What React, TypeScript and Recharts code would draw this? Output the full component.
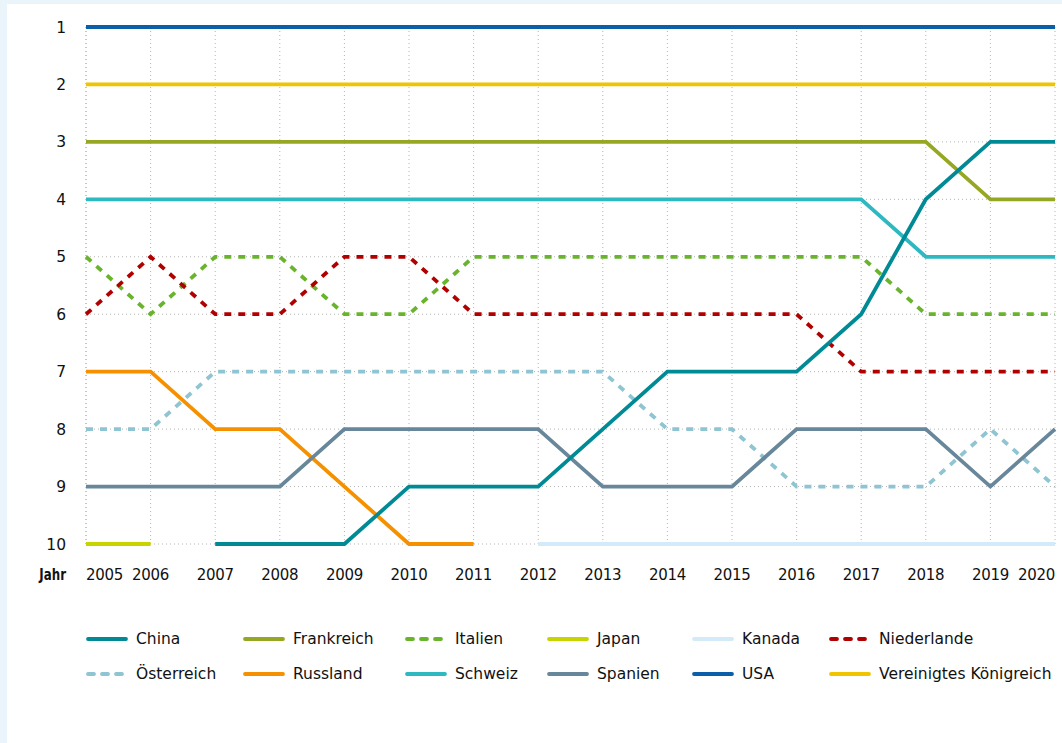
import React from 'react';
import { LineChart, Line, XAxis, YAxis, CartesianGrid } from 'recharts';

const years = [2005, 2006, 2007, 2008, 2009, 2010, 2011, 2012, 2013, 2014, 2015, 2016, 2017, 2018, 2019, 2020];
const rankTicks = [1, 2, 3, 4, 5, 6, 7, 8, 9, 10];

type R = number | null;
const usa: R[] = [1, 1, 1, 1, 1, 1, 1, 1, 1, 1, 1, 1, 1, 1, 1, 1];
const vereinigtesKoenigreich: R[] = [2, 2, 2, 2, 2, 2, 2, 2, 2, 2, 2, 2, 2, 2, 2, 2];
const frankreich: R[] = [3, 3, 3, 3, 3, 3, 3, 3, 3, 3, 3, 3, 3, 3, 4, 4];
const schweiz: R[] = [4, 4, 4, 4, 4, 4, 4, 4, 4, 4, 4, 4, 4, 5, 5, 5];
const china: R[] = [null, null, 10, 10, 10, 9, 9, 9, 8, 7, 7, 7, 6, 4, 3, 3];
const italien: R[] = [5, 6, 5, 5, 6, 6, 5, 5, 5, 5, 5, 5, 5, 6, 6, 6];
const niederlande: R[] = [6, 5, 6, 6, 5, 5, 6, 6, 6, 6, 6, 6, 7, 7, 7, 7];
const russland: R[] = [7, 7, 8, 8, 9, 10, 10, null, null, null, null, null, null, null, null, null];
const oesterreich: R[] = [8, 8, 7, 7, 7, 7, 7, 7, 7, 8, 8, 9, 9, 9, 8, 9];
const spanien: R[] = [9, 9, 9, 9, 8, 8, 8, 8, 9, 9, 9, 8, 8, 8, 9, 8];
const japan: R[] = [10, 10, null, null, null, null, null, null, null, null, null, null, null, null, null, null];
const kanada: R[] = [null, null, null, null, null, null, null, 10, 10, 10, 10, 10, 10, 10, 10, 10];

const series = [
  { key: 'China', values: china, color: '#008a96', dashed: false },
  { key: 'Frankreich', values: frankreich, color: '#96a823', dashed: false },
  { key: 'Italien', values: italien, color: '#6ab42d', dashed: true },
  { key: 'Japan', values: japan, color: '#c8d400', dashed: false },
  { key: 'Kanada', values: kanada, color: '#d4eaf8', dashed: false },
  { key: 'Niederlande', values: niederlande, color: '#b00000', dashed: true },
  { key: 'Österreich', values: oesterreich, color: '#8fc4d2', dashed: true },
  { key: 'Russland', values: russland, color: '#f59100', dashed: false },
  { key: 'Schweiz', values: schweiz, color: '#2eb8c0', dashed: false },
  { key: 'Spanien', values: spanien, color: '#69879a', dashed: false },
  { key: 'USA', values: usa, color: '#0b5ea8', dashed: false },
  { key: 'Vereinigtes Königreich', values: vereinigtesKoenigreich, color: '#f0c400', dashed: false },
];

const data = years.map((year, i) => {
  const row: Record<string, number | null> = { year };
  series.forEach((s) => { row[s.key] = s.values[i]; });
  return row;
});

// draw order: China on top
const drawOrder = [...series.filter((s) => s.key !== 'China'), series[0]];

const font = "'DejaVu Sans', sans-serif";
const legendCols = [79, 236, 398, 540, 685, 822];

function YearTick(props: any) {
  const { x, y, payload, index } = props;
  const anchor = index === 0 ? 'start' : index === years.length - 1 ? 'end' : 'middle';
  return (
    <text x={x} y={y} dy={11} textAnchor={anchor} fill="#111" fontSize={15} fontFamily={font} letterSpacing={-0.3}>
      {payload.value}
    </text>
  );
}

export default function App() {
  return (
    <div style={{ position: 'absolute', left: 0, top: 0, width: 1062, height: 743, background: '#eaf4fb', fontFamily: font }}>
      <div style={{ position: 'absolute', left: 7, top: 4, width: 1055, height: 739, background: '#fff' }}>
        <LineChart width={1055} height={600} data={data} margin={{ top: 23, right: 7, left: 0, bottom: 0 }}>
          <CartesianGrid stroke="#b4b4b4" strokeDasharray="1 3" />
          <XAxis
            dataKey="year"
            tickLine={false}
            axisLine={false}
            tickSize={0}
            tickMargin={25}
            height={60}
            interval={0}
            tick={<YearTick />}
          />
          <YAxis
            reversed
            domain={[1, 10]}
            ticks={rankTicks}
            interval={0}
            tickLine={false}
            axisLine={false}
            tickSize={0}
            tickMargin={20}
            width={79}
            tick={{ fill: '#111', fontSize: 15.5, fontFamily: font }}
          />
          {drawOrder.map((s) => (
            <Line
              key={s.key}
              dataKey={s.key}
              stroke={s.color}
              strokeWidth={3.8}
              strokeDasharray={s.dashed ? '7 7' : undefined}
              dot={false}
              activeDot={false}
              connectNulls={false}
              isAnimationActive={false}
            />
          ))}
        </LineChart>
        <div style={{ position: 'absolute', left: 0, width: 59, textAlign: 'right', top: 561, fontSize: 16, fontWeight: 'bold', color: '#111' }}>
          <span style={{ display: 'inline-block', transform: 'scaleX(0.74)', transformOrigin: 'right center' }}>Jahr</span>
        </div>
        {series.map((s, i) => {
          const col = i % 6;
          const row = Math.floor(i / 6);
          return (
            <div key={s.key} style={{ position: 'absolute', left: legendCols[col], top: 625 + row * 35, height: 20, display: 'flex', alignItems: 'center', fontSize: 15.5, color: '#111', whiteSpace: 'nowrap' }}>
              <svg width={42} height={6} style={{ marginRight: 8 }}>
                <line x1={2} y1={3} x2={40} y2={3} stroke={s.color} strokeWidth={3.8} strokeLinecap="round" strokeDasharray={s.dashed ? '6 8' : undefined} />
              </svg>
              <span>{s.key}</span>
            </div>
          );
        })}
      </div>
    </div>
  );
}
